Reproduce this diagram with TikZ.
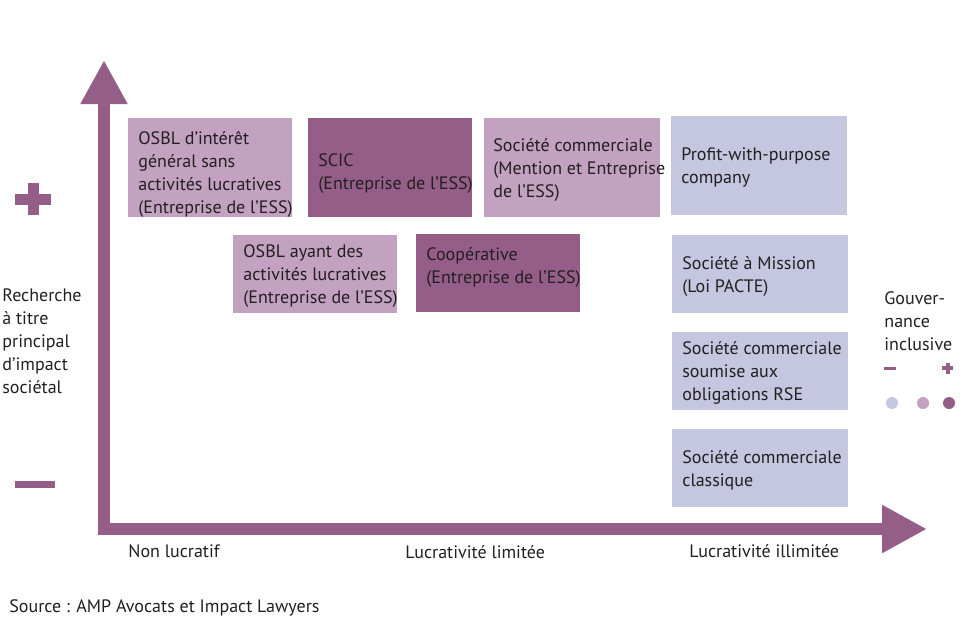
\documentclass[tikz,border=0pt]{standalone}
\usepackage{fontspec}
\setmainfont{PT Sans}
\usetikzlibrary{arrows.meta}
\definecolor{plum}{HTML}{955E88}
\definecolor{mauve}{HTML}{C3A1C1}
\definecolor{lilac}{HTML}{C5C6E0}
\definecolor{ink}{HTML}{231F20}

\begin{document}
\begin{tikzpicture}[x=0.5pt, y=-0.5pt, every node/.style={font=\fontsize{9}{11.5}\selectfont, text=ink, inner sep=0pt},
	cell/.style={anchor=north west, minimum height=39pt},
	tall/.style={minimum height=49.5pt},
	narrow/.style={minimum width=82pt},
	broad/.style={minimum width=88pt},
	celltext/.style={anchor=west, align=left, xshift=5pt, yshift=-1pt},
	axis/.style={plum, line width=6pt, line join=miter},
	label/.style={anchor=base west, align=left}]
	\useasboundingbox (0,0) rectangle (973,623);
	\coordinate (ytip) at (104,60);
	\coordinate (origin) at (104,529);
	\coordinate (xtip) at (927,529);
	\draw[axis, {Triangle[length=22pt,width=22pt]}-{Triangle[length=22.5pt,width=22.5pt]}] (ytip) -- (origin) -- (xtip);
	\draw[plum, line width=5.5pt] (15,199) -- (51,199) (33,183) -- (33,215);
	\draw[plum, line width=3.5pt] (15,484) -- (55,484);
	\node[cell, narrow, tall, fill=mauve] (osblig) at (128,118) {};
	\node[celltext, yshift=-2pt] at (osblig.west) {OSBL d’intérêt\\général sans\\activités lucratives\\(Entreprise de l’ESS)};
	\node[cell, narrow, tall, fill=plum] (scic) at (308,118) {};
	\node[celltext, yshift=-2pt] at (scic.west) {SCIC\\(Entreprise de l’ESS)};
	\node[cell, broad, tall, fill=mauve] (soccom) at (484,118) {};
	\node[celltext, xshift=-0.5pt] at (soccom.west) {Société commerciale\\(Mention et Entreprise\\de l’ESS)};
	\node[cell, broad, tall, fill=lilac] (pwp) at (671,116) {};
	\node[celltext] at (pwp.west) {Profit-with-purpose\\company};
	\node[cell, narrow, fill=mauve] (osblay) at (233,235) {};
	\node[celltext] at (osblay.west) {OSBL ayant des\\activités lucratives\\(Entreprise de l’ESS)};
	\node[cell, narrow, fill=plum] (coop) at (416,234) {};
	\node[celltext, yshift=4pt] at (coop.west) {Coopérative\\(Entreprise de l’ESS)};
	\node[cell, broad, fill=lilac] (mission) at (672,235) {};
	\node[celltext] at (mission.west) {Société à Mission\\(Loi PACTE)};
	\node[cell, broad, fill=lilac] (rse) at (672,332) {};
	\node[celltext] at (rse.west) {Société commerciale\\soumise aux\\obligations RSE};
	\node[cell, broad, fill=lilac] (classic) at (672,429) {};
	\node[celltext] at (classic.west) {Société commerciale\\classique};
	\node[label] (impact) at (2,393) {Recherche\\à titre\\principal\\d’impact\\sociétal};
	\node[label] (gouv) at (884,350) {Gouver-\\nance\\inclusive};
	\draw[plum, line width=1.5pt] (884,368) -- (896,368);
	\draw[plum, line width=2pt] (942,368) -- (953,368) (947.5,362.5) -- (947.5,373.5);
	\foreach \x/\c in {892/lilac,923/mauve,949/plum} {\fill[\c] (\x,403) circle (6);}
	\node[label] (nonlucr) at (128,557) {Non lucratif};
	\node[label] (limit) at (405,558) {Lucrativité limitée};
	\node[label] (illim) at (689,557) {Lucrativité illimitée};
	\node[label] (source) at (9,612) {Source : AMP Avocats et Impact Lawyers};
\end{tikzpicture}
\end{document}
